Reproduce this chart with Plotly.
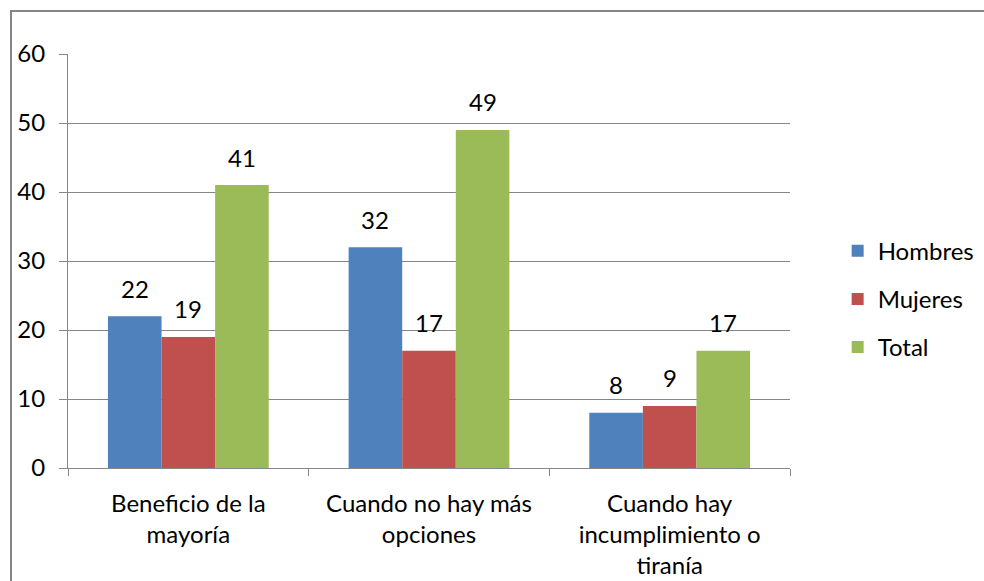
import plotly.graph_objects as go

categories = ["Beneficio de la<br>mayoría", "Cuando no hay más<br>opciones", "Cuando hay<br>incumplimiento o<br>tiranía"]
series_names = ["Hombres", "Mujeres", "Total"]
hombres = [22, 32, 8]
mujeres = [19, 17, 9]
total = [41, 49, 17]
colors = ["#4F81BD", "#C0504D", "#9BBB59"]
y_ticks = [0, 10, 20, 30, 40, 50, 60]

FONT = "Lato"
FS = 24
GRAY = "#868686"
BARGAP = 0.332
positions = list(range(len(categories)))
boundaries = [p - 0.5 for p in positions] + [positions[-1] + 0.5]
all_series = [hombres, mujeres, total]
n = len(all_series)
bw = (1 - BARGAP) / n

fig = go.Figure()
annotations = []
for i, (name, vals, col) in enumerate(zip(series_names, all_series, colors)):
    fig.add_trace(go.Bar(
        x=positions, y=vals, name=name, marker=dict(color=col, line=dict(width=0)),
        legendgroup=name,
    ))
    off = (i - (n - 1) / 2) * bw
    for p, v in zip(positions, vals):
        annotations.append(dict(x=p + off, y=v, xref="x", yref="y", text=str(v),
                                showarrow=False, yanchor="middle", yshift=28,
                                font=dict(family=FONT, size=FS, color="black")))

L, R, T, B = 68, 790, 54, 468
W, H = 984, 581
pw, ph = R - L, B - T

fig.update_layout(
    width=W, height=H,
    margin=dict(l=L, r=W - R, t=T, b=H - B, autoexpand=False),
    paper_bgcolor="white", plot_bgcolor="white",
    barmode="group", bargap=BARGAP, bargroupgap=0,
    font=dict(family=FONT, size=FS, color="black"),
    showlegend=True,
    legend=dict(x=1.066, y=0.408, xanchor="left", yanchor="middle", traceorder="grouped",
                font=dict(family=FONT, size=FS, color="black"),
                tracegroupgap=14, itemwidth=30, bgcolor="rgba(0,0,0,0)"),
    xaxis=dict(range=[boundaries[0], boundaries[-1]], tickvals=positions, ticktext=categories,
               ticks="", showgrid=False, zeroline=False, showline=True, linecolor=GRAY, linewidth=1,
               tickfont=dict(family=FONT, size=FS, color="black"), automargin=False,
               ticklabelstandoff=14,
               minor=dict(tickvals=boundaries, ticks="outside", ticklen=7, tickcolor=GRAY, tickwidth=1, showgrid=False)),
    yaxis=dict(range=[0, 60], tickvals=y_ticks, ticks="outside", ticklen=8, tickcolor=GRAY,
               showgrid=True, gridcolor=GRAY, gridwidth=1, zeroline=False,
               showline=True, linecolor=GRAY, linewidth=1, automargin=False,
               ticklabelstandoff=9,
               tickfont=dict(family=FONT, size=FS, color="black")),
    annotations=annotations,
    shapes=[dict(type="rect", xref="paper", yref="paper",
                 x0=(11 - L) / pw, x1=(1000 - L) / pw,
                 y0=(B - 600) / ph, y1=(B - 11) / ph,
                 line=dict(color=GRAY, width=2), fillcolor="rgba(0,0,0,0)", layer="below")],
)

fig.write_html("out.html", config={"displayModeBar": False},
               post_script="document.body.style.margin='0';")
